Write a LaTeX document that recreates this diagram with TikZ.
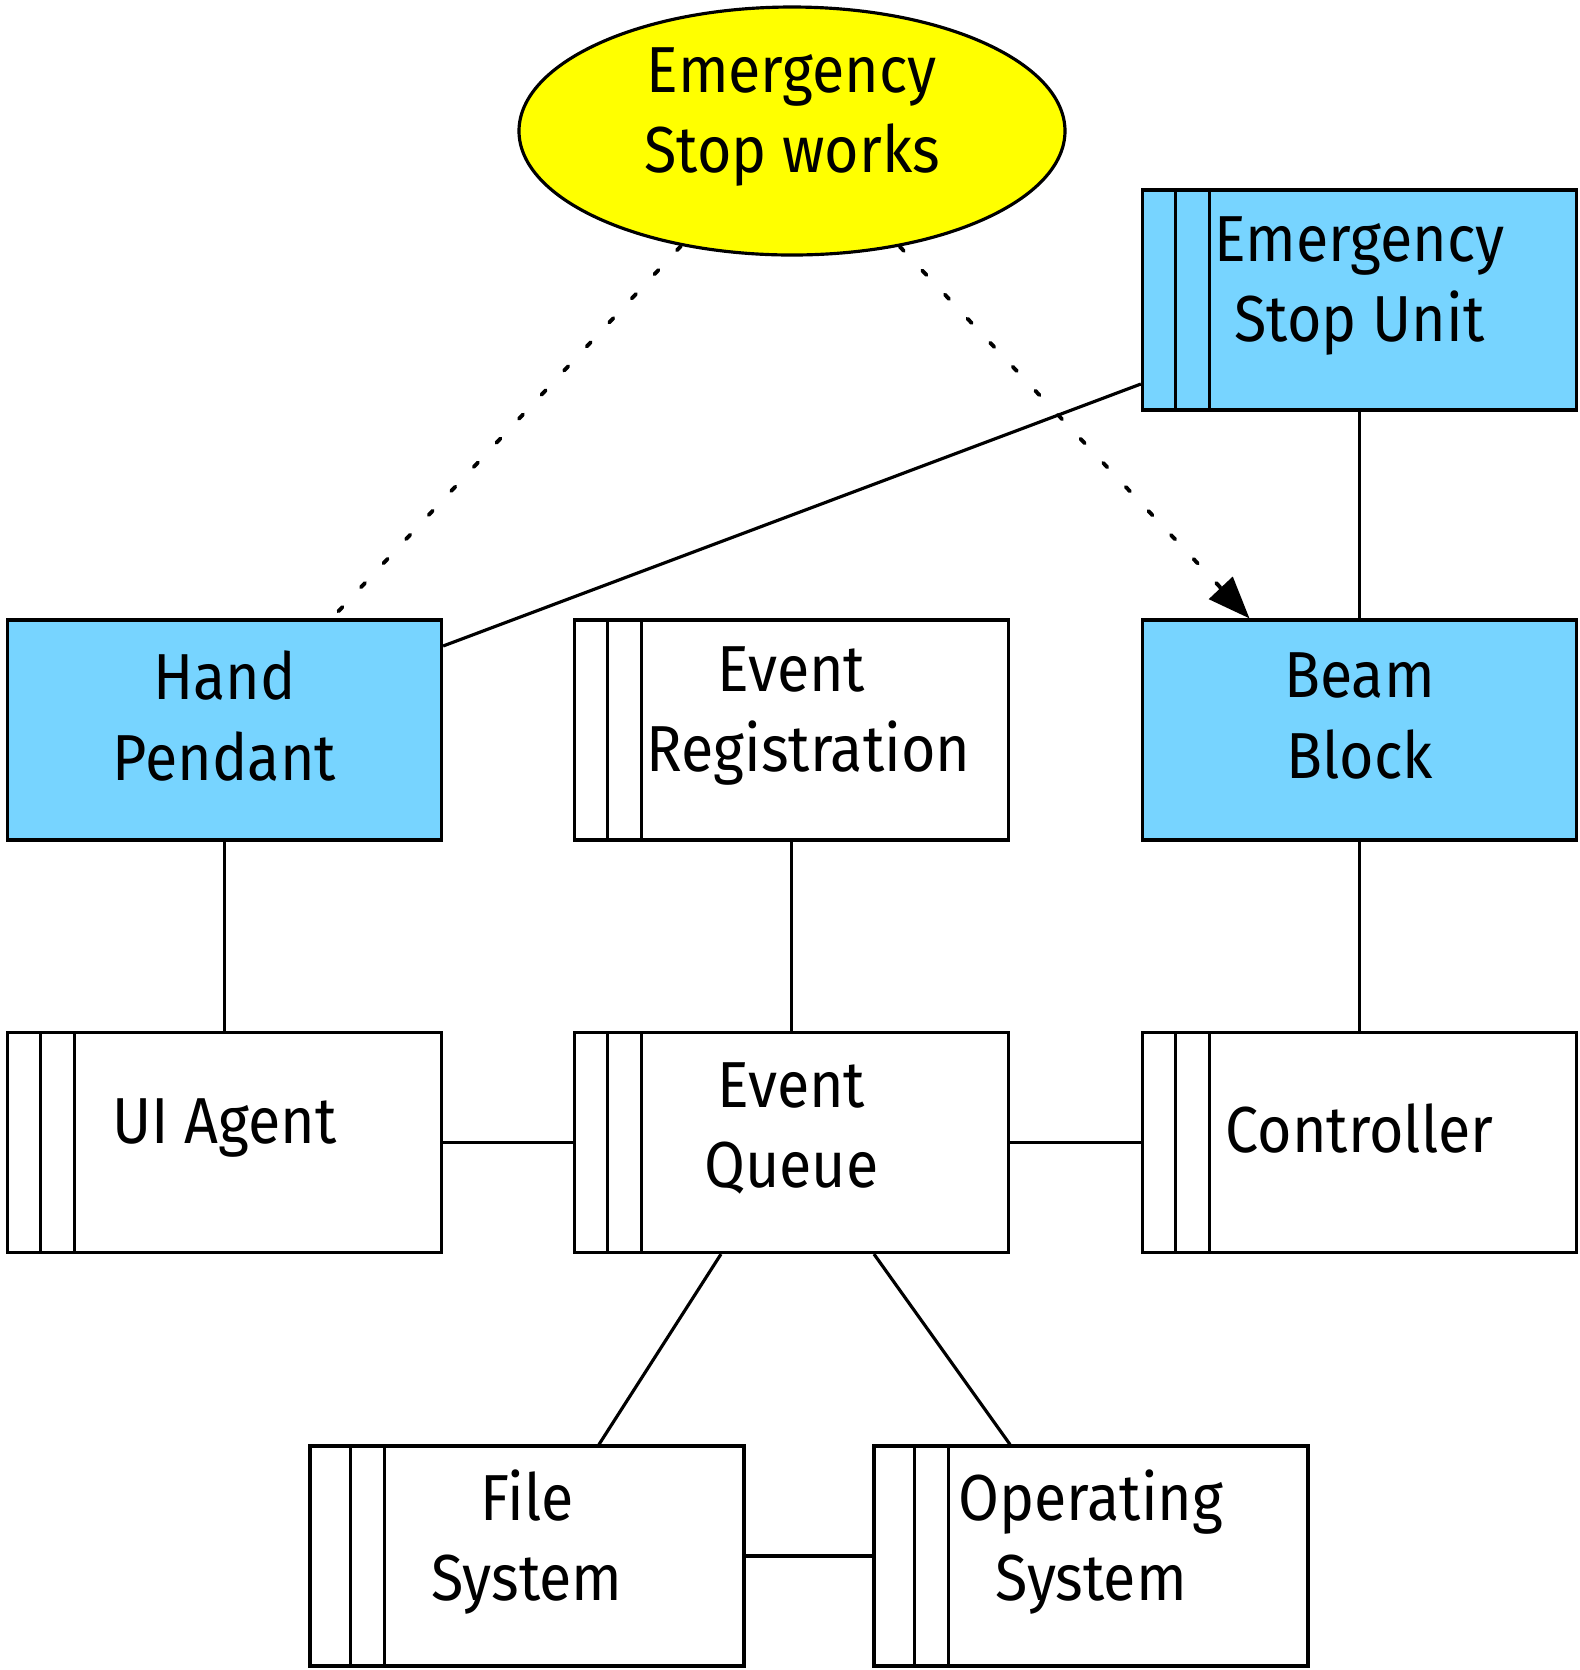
\documentclass[tikz,border=0pt]{standalone}
\usepackage{fontspec}
\setmainfont{Fira Sans}[FakeStretch=0.91]
\usetikzlibrary{shapes.geometric,arrows.meta}
\definecolor{hwblue}{RGB}{119,212,255}
\definecolor{goalyellow}{RGB}{255,255,0}
\newcommand{\boxfont}{\fontsize{18.5pt}{22.8pt}\selectfont}
\tikzset{
  unit/.style={draw, line width=0.9pt, minimum width=4.34cm, minimum height=2.2cm, inner sep=0pt},
  component/.style={unit,
    path picture={\draw[line width=0.9pt]
      ([xshift=#1]path picture bounding box.north west) -- ([xshift=#1]path picture bounding box.south west)
      ([xshift=#1+0.34cm]path picture bounding box.north west) -- ([xshift=#1+0.34cm]path picture bounding box.south west);}},
  component/.default=0.33cm,
  hardware/.style={fill=hwblue},
  caption/.style={label={[yshift=0.14cm, align=center, font=\boxfont, inner sep=0pt]center:#1}},
  goal/.style={ellipse, draw, line width=0.9pt, fill=goalyellow, minimum width=5.46cm, minimum height=2.48cm, inner sep=0pt},
  link/.style={line width=0.9pt},
  relies/.style={line width=1.1pt, line cap=round, dash pattern=on 0.06cm off 0.27cm},
}
\begin{document}
\begin{tikzpicture}
  \useasboundingbox (0,0) rectangle (15.8,-16.7);
  \node[goal, caption={Emergency\\Stop works}] (goal) at (7.92,-1.31) {};
  \node[component, hardware, caption={Emergency\\Stop Unit}] (esu) at (13.595,-3.00) {};
  \node[unit, hardware, caption={Hand\\Pendant}] (hp) at (2.245,-7.30) {};
  \node[component, caption={Event\\\hspace*{0.34cm}Registration}] (er) at (7.915,-7.30) {};
  \node[unit, hardware, caption={Beam\\Block}] (bb) at (13.595,-7.30) {};
  \node[component, caption={UI Agent}] (ui) at (2.245,-11.425) {};
  \node[component, caption={Event\\Queue}] (eq) at (7.915,-11.425) {};
  \node[component, caption={Controller}] (ctrl) at (13.595,-11.425) {};
  \node[component=0.405cm, caption={File\\System}] (fs) at (5.27,-15.56) {};
  \node[component=0.405cm, caption={Operating\\System}] (os) at (10.91,-15.56) {};
  \begin{scope}[link]
    \draw ([yshift=-0.84cm]esu.west) -- ([yshift=0.84cm]hp.east);
    \draw (esu) -- (bb);
    \draw (hp) -- (ui);
    \draw (er) -- (eq);
    \draw (bb) -- (ctrl);
    \draw (ui) -- (eq);
    \draw (eq) -- (ctrl);
    \draw ([xshift=-0.705cm]eq.south) -- ([xshift=0.72cm]fs.north);
    \draw ([xshift=0.825cm]eq.south) -- ([xshift=-0.81cm]os.north);
    \draw (fs) -- (os);
  \end{scope}
  \begin{scope}[relies]
    \draw (goal.226) -- ([xshift=1.11cm,yshift=0.04cm]hp.north);
    \draw[-{Triangle[length=0.42cm,width=0.32cm]}] (goal.313) -- ([xshift=-1.1cm]bb.north);
  \end{scope}
\end{tikzpicture}
\end{document}
